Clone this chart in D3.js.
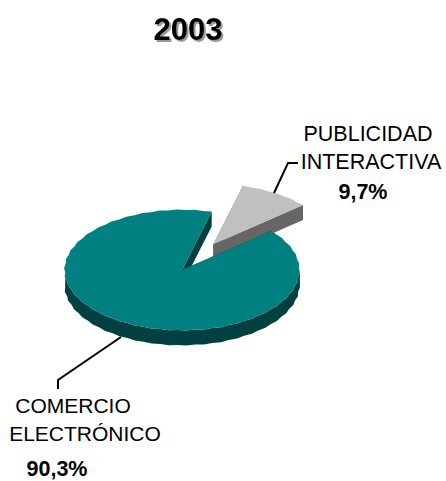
<!DOCTYPE html>
<html>
<head>
<meta charset="utf-8">
<script src="https://cdn.jsdelivr.net/npm/d3@7"></script>
<style>
html,body{margin:0;padding:0;background:#fff}
svg{display:block}
text{font-family:"Liberation Sans",Arial,sans-serif;fill:#000}
</style>
</head>
<body>
<svg id="chart" width="446" height="481"></svg>
<script>
// Chart content
const chartTitle = "2003";
const categories = ["COMERCIO ELECTRÓNICO", "PUBLICIDAD INTERACTIVA"];
const shares = [90.3, 9.7];
const shareLabels = ["90,3%", "9,7%"];

// Colours per slice: top face and side wall
const faceColors = ["#008080", "#C0C0C0"];
const wallColors = ["#004040", "#666666"];

// Pie geometry in pixels
const cx = 182, cy = 270, radius = 118, tilt = 0.513, depth = 15;
const explode = [0, 59];
const facetStep = Math.PI / 42;
const scallop = 1.1;

const svg = d3.select("#chart");

// The large slice begins at the right of the notch and runs clockwise
const firstAngle = 49.5 * Math.PI / 180;
const pie = d3.pie().sort(null).startAngle(firstAngle).endAngle(firstAngle + 2 * Math.PI);
const slices = pie(shares);

// Project a polar point (clockwise from the top) onto the tilted plane
const project = (a, r, off) => [
  cx + off.x + r * Math.sin(a),
  cy + off.y - r * Math.cos(a) * tilt
];
const rimAngles = (a0, a1) => {
  const n = Math.max(1, Math.round((a1 - a0) / facetStep));
  return d3.range(n + 1).map(i => a0 + (a1 - a0) * i / n);
};
// Rim radius alternates slightly, giving the stepped edge of a coarse raster
const rimRadius = (k, n) => (k === 0 || k === n || k % 2 === 0) ? radius : radius - scallop;
const line = d3.line();

function drawSlice(s, i) {
  const mid = (s.startAngle + s.endAngle) / 2;
  const off = { x: explode[i] * Math.sin(mid), y: -explode[i] * Math.cos(mid) * tilt };
  const g = svg.append("g");
  const apex = project(0, 0, off);
  const angles = rimAngles(s.startAngle, s.endAngle);
  const rim = angles.map((a, k) => project(a, rimRadius(k, angles.length - 1), off));
  const down = p => [p[0], p[1] + depth];

  // Cut walls, visible when they face the viewer
  [s.startAngle, s.endAngle].forEach(a => {
    const p = project(a, radius, off);
    g.append("path")
      .attr("d", line([apex, p, down(p), down(apex)]) + "Z")
      .attr("fill", wallColors[i]);
  });

  // Outer rim wall on the front half of the ellipse
  const front = rim.filter((p, k) => Math.cos(angles[k]) < 0.02);
  if (front.length > 1) {
    g.append("path")
      .attr("d", line(front.concat(front.map(down).reverse())) + "Z")
      .attr("fill", wallColors[i]);
  }

  // Top face
  g.append("path")
    .attr("d", line([apex].concat(rim)) + "Z")
    .attr("fill", faceColors[i]);
}

// Exploded slice sits behind the large one
drawSlice(slices[1], 1);
drawSlice(slices[0], 0);

// Leader lines
const leaders = [
  [[121, 337], [58, 380], [58, 389]],
  [[274, 193], [288, 163], [298, 163]]
];
svg.selectAll("path.leader").data(leaders).enter().append("path")
  .attr("class", "leader")
  .attr("d", d => line(d))
  .attr("fill", "none")
  .attr("stroke", "#000")
  .attr("stroke-width", 2);

// Title with its drop shadow
svg.append("text").attr("x", 188).attr("y", 40)
  .attr("text-anchor", "middle").attr("font-size", 31).attr("font-weight", "bold")
  .style("filter", "drop-shadow(2px 2px 0.6px #999)")
  .text(chartTitle);

// Slice labels
const labelWords = categories.map(c => c.split(" "));
const labelSpots = [
  { x: [73, 85], y: [413, 441], vx: 57, vy: 476, size: 21 },
  { x: [368, 371], y: [141, 169], vx: 363, vy: 199, size: 21.5 }
];
labelSpots.forEach((spot, i) => {
  labelWords[i].forEach((w, j) => {
    svg.append("text").attr("x", spot.x[j]).attr("y", spot.y[j])
      .attr("text-anchor", "middle").attr("font-size", spot.size).text(w);
  });
  svg.append("text").attr("x", spot.vx).attr("y", spot.vy)
    .attr("text-anchor", "middle").attr("font-size", 21.5).attr("font-weight", "bold")
    .text(shareLabels[i]);
});
</script>
</body>
</html>
